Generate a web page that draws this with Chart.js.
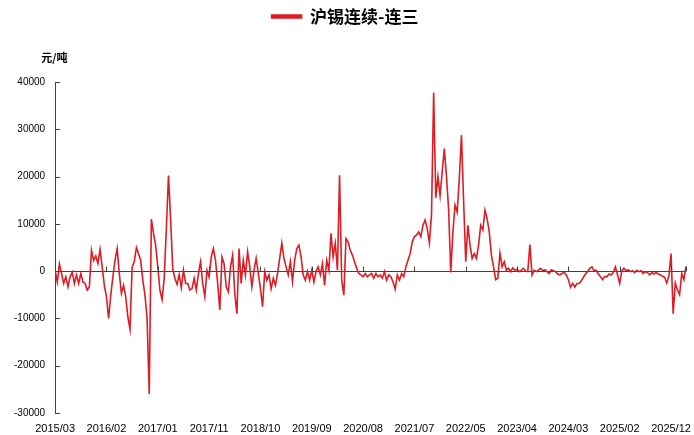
<!DOCTYPE html>
<html>
<head>
<meta charset="utf-8">
<script src="https://cdn.jsdelivr.net/npm/chart.js@4.4.1/dist/chart.umd.min.js"></script>
<style>
  html, body { margin: 0; padding: 0; background: #fff; }
  #wrap { width: 694px; height: 435px; }
</style>
</head>
<body>
<div id="wrap"><canvas id="c" width="694" height="435"></canvas></div>
<script>
// ============ DATOS ============
const seriesName = '沪锡连续-连三';
const unitLabel = '元/吨';

// etiquetas del eje x, una cada 24 puntos
const tickLabels = ['2015/03', '2016/02', '2017/01', '2017/11', '2018/10', '2019/09', '2020/08',
                    '2021/07', '2022/05', '2023/04', '2024/03', '2025/02', '2025/12'];
const tickStep = 24;

// spread 连续-连三 (元/吨)
const spread = [
    200, -2300, 1500, -500, -2600, -1200, -3300, -1200, -200, -2600,
    -800, -2600, -500, -2300, -2600, -4000, -3300, 4400, 2300, 3200,
    1600, 4600, 900, -3000, -5400, -10000, -5100, -1200, 2300, 4800,
    -500, -4700, -3000, -5400, -9700, -12300, 900, 2000, 5000, 3700,
    2300, -1900, -5100, -10000, -26000, 11000, 8000, 5500, 900, -4000,
    -6000, -1500, 9000, 20200, 11000, 500, -1500, -2800, -700, -3500,
    200, -2600, -2600, -4000, -3700, -1500, -4000, -500, 2000, -2600,
    -5400, 200, -1200, 3000, 4800, 2300, -2600, -8200, 3000, 1600,
    -3300, -4400, 900, 3400, -4700, -9000, 4800, -2600, 2300, -800,
    4100, 900, -3300, 200, 2700, -500, -3700, -7500, -100, -1900,
    -800, -3700, -1500, -3000, -500, 2700, 5900, 2700, 900, -800,
    2000, -2200, 2300, 4800, 5500, 3000, -800, -1900, -100,
    -1900, 200, -2300, -100, 900, -800, 1600, -3000, 2300, 200,
    8000, 3000, 5900, 200, 20300, -1900, -5100, 6900, 6200, 4400,
    3400, 2000, 600, -500, -800, -1200, -500, -1200, -800, -500,
    -1500, -500, -1200, -800, -1500, -100, -1900, -800, -1200, -2300,
    -3800, -800, -1900, -500, -1200, 900, 2300, 3700, 6200, 7300,
    7600, 8300, 7300, 9700, 10800, 9000,
    6000, 12000, 37800, 15500, 20000, 16000, 21000, 25900, 20000, 13000,
    -300, 8300, 14000, 12500, 19600, 28800, 15000, 2000, 9700, 5500,
    2700, 3700, 2700, 5500, 9700, 8700, 12900, 11100, 8300, 3400,
    900, -1800, -1500, 3800, 900, 2000, 200, 600, -100, 700,
    200, 400, -100, 200, 600, 0,
    -100, 5600, -800, 200, -100, 200, 600, 100, 300, -100,
    -500, 300, 100, -100, -600, -800, -500, -300, -800, -1800,
    -3400, -2600, -3400, -2600, -2600, -2100, -1300, -600, -100, 600,
    900, 100, 200, -600, -1200, -1800, -1100, -1200, -600, -800,
    -300, 900, -800, -2600, 100, 600, 100, 300, -100, 100,
    -300, 200, -100, 100, -500, -100, -300, -800, -300, -600,
    -300, -600, -800, -1100, -1300, -2500, -1000, 3700, -9000, -2500,
    -4000, -5000, -500, -1800, 1000
];

const yTicks = [-30000, -20000, -10000, 0, 10000, 20000, 30000, 40000];

// ============ CONSTRUCCIÓN ============
const puntos = spread.map((v, i) => ({ x: i, y: v }));
const tickIdx = tickLabels.map((_, i) => i * tickStep);
const lineColor = 'rgb(222, 28, 36)';
const axisColor = '#404040';

// espacio extra bajo la leyenda (para la unidad)
const espacioLeyenda = {
    id: 'espacioLeyenda',
    beforeInit(chart) {
        const fitOrig = chart.legend.fit;
        chart.legend.fit = function () {
            fitOrig.call(this);
            this.height += 47;
        };
    }
};

// marcas del eje: ticks hacia dentro en y, ticks hacia arriba sobre la línea cero, y la unidad
const marcasEje = {
    id: 'marcasEje',
    afterDraw(chart) {
        const { ctx, chartArea, scales } = chart;
        const xs = scales.x, ys = scales.y;
        const y0 = Math.round(ys.getPixelForValue(0)) + 0.5;
        ctx.save();
        ctx.strokeStyle = axisColor;
        ctx.lineWidth = 1;
        ctx.beginPath();
        yTicks.forEach(v => {
            const py = Math.round(ys.getPixelForValue(v)) + 0.5;
            ctx.moveTo(chartArea.left, py);
            ctx.lineTo(chartArea.left + 5, py);
        });
        tickIdx.slice(1).concat([xs.max]).forEach(i => {
            const px = Math.round(xs.getPixelForValue(i)) + 0.5;
            ctx.moveTo(px, y0);
            ctx.lineTo(px, y0 - 5);
        });
        ctx.stroke();
        ctx.fillStyle = '#000';
        ctx.font = 'bold 11px "Noto Sans CJK SC", sans-serif';
        ctx.textAlign = 'left';
        ctx.textBaseline = 'middle';
        ctx.fillText(unitLabel, chartArea.left - 14, 58);
        ctx.restore();
    }
};

const chart = new Chart(document.getElementById('c'), {
    type: 'line',
    data: {
        datasets: [{
            label: seriesName,
            data: puntos,
            borderColor: lineColor,
            backgroundColor: lineColor,
            borderWidth: 1.6,
            pointRadius: 0,
            tension: 0
        }]
    },
    options: {
        responsive: false,
        animation: false,
        devicePixelRatio: 1,
        layout: { padding: { top: 0, left: 4, right: 8, bottom: 0 } },
        plugins: {
            legend: {
                position: 'top',
                labels: {
                    boxWidth: 30,
                    boxHeight: 3,
                    padding: 8,
                    color: '#000',
                    font: { family: '"Noto Sans CJK SC", sans-serif', size: 17, weight: 'bold' }
                }
            },
            tooltip: { enabled: false }
        },
        scales: {
            x: {
                type: 'linear',
                min: 0,
                max: spread.length - 1,
                afterBuildTicks: axis => { axis.ticks = tickIdx.map(v => ({ value: v })); },
                afterFit: axis => {
                    axis.height = 22;
                    axis.paddingLeft = 0;
                    axis.paddingRight = 0;
                },
                ticks: {
                    autoSkip: false,
                    maxRotation: 0,
                    padding: 9,
                    color: '#000',
                    font: { family: '"Liberation Sans", Arial, sans-serif', size: 11 },
                    callback: v => tickLabels[tickIdx.indexOf(v)]
                },
                grid: { display: false, drawTicks: false, tickLength: 0 },
                border: { display: false }
            },
            y: {
                min: -30000,
                max: 40000,
                afterBuildTicks: axis => { axis.ticks = yTicks.map(v => ({ value: v })); },
                ticks: {
                    padding: 10,
                    color: '#000',
                    font: { family: '"Liberation Sans", Arial, sans-serif', size: 10 },
                    callback: v => String(v)
                },
                grid: {
                    drawTicks: false,
                    color: ctx => ctx.tick && ctx.tick.value === 0 ? axisColor : 'rgba(0,0,0,0)',
                    lineWidth: 1
                },
                border: { display: true, color: axisColor, width: 1 }
            }
        }
    },
    plugins: [espacioLeyenda, marcasEje]
});
</script>
</body>
</html>
